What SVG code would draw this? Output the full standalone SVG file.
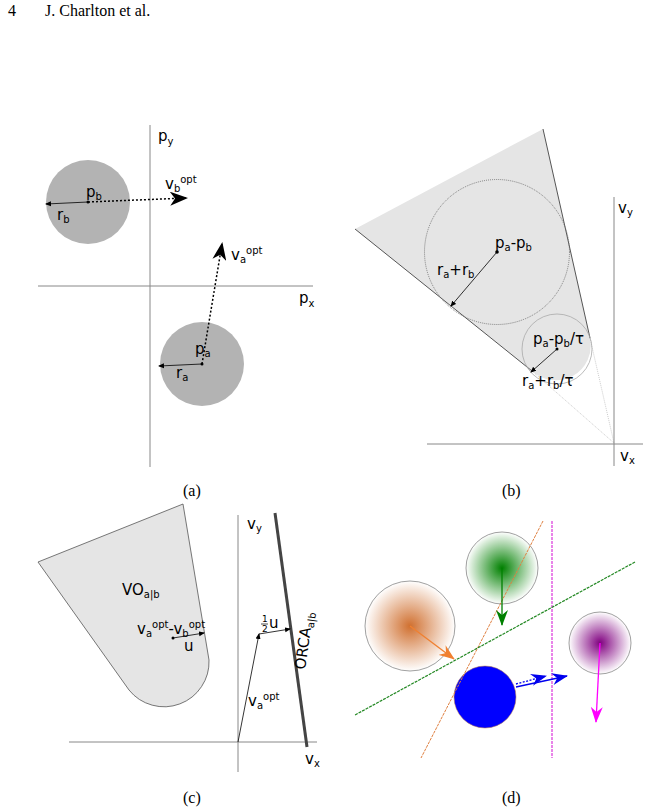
<svg xmlns="http://www.w3.org/2000/svg" width="653" height="812" viewBox="0 0 653 812">
<style>
.ax{stroke:#888;stroke-width:1;fill:none}
.l{font-family:"DejaVu Sans",sans-serif;font-size:15px;fill:#000}
.s{font-size:10px}
.cap{font-family:"Liberation Serif",serif;font-size:16px;fill:#000}
.thin{stroke:#000;stroke-width:0.8;fill:none}
.dot{stroke:#000;stroke-width:1.5;stroke-dasharray:2,2;fill:none}
</style>
<defs>
<marker id="sa" markerWidth="6" markerHeight="6" refX="5" refY="3" orient="auto" markerUnits="userSpaceOnUse"><path d="M0,0.5 L6,3 L0,5.5 Z" fill="#000"/></marker>
<marker id="big" markerWidth="18" markerHeight="14" refX="16" refY="7" orient="auto" markerUnits="userSpaceOnUse"><path d="M0,0 L18,7 L0,14 L5,7 Z" fill="#000"/></marker>
<marker id="mo" markerWidth="16" markerHeight="12" refX="15" refY="6" orient="auto" markerUnits="userSpaceOnUse"><path d="M0,0 L16,6 L0,12 L5,6 Z" fill="#f08030"/></marker>
<marker id="mg" markerWidth="16" markerHeight="12" refX="15" refY="6" orient="auto" markerUnits="userSpaceOnUse"><path d="M0,0 L16,6 L0,12 L5,6 Z" fill="#008000"/></marker>
<marker id="mm" markerWidth="16" markerHeight="12" refX="15" refY="6" orient="auto" markerUnits="userSpaceOnUse"><path d="M0,0 L16,6 L0,12 L5,6 Z" fill="#ff00ff"/></marker>
<marker id="mb" markerWidth="16" markerHeight="12" refX="15" refY="6" orient="auto" markerUnits="userSpaceOnUse"><path d="M0,0 L16,6 L0,12 L5,6 Z" fill="#0000ee"/></marker>
<radialGradient id="go"><stop offset="0" stop-color="#d07030"/><stop offset="1" stop-color="#d07030" stop-opacity="0"/></radialGradient>
<radialGradient id="gg"><stop offset="0" stop-color="#008000"/><stop offset="1" stop-color="#008000" stop-opacity="0"/></radialGradient>
<radialGradient id="gp"><stop offset="0" stop-color="#800080"/><stop offset="1" stop-color="#800080" stop-opacity="0"/></radialGradient>
</defs>
<rect width="653" height="812" fill="#fff"/>
<text class="cap" x="8" y="16">4</text>
<text class="cap" x="45" y="16">J. Charlton et al.</text>

<!-- panel a -->
<g id="panel-a">
<line class="ax" x1="150" y1="125" x2="150" y2="467"/>
<line class="ax" x1="38" y1="286" x2="313" y2="286"/>
<text class="l" x="158" y="141">p<tspan class="s" dy="4">y</tspan></text>
<text class="l" x="299" y="303">p<tspan class="s" dy="4">x</tspan></text>
<g id="agent-b"><circle cx="88" cy="202" r="42" fill="#b3b3b3"/><circle cx="88" cy="202" r="1.5"/>
<text class="l" x="86" y="197">p<tspan class="s" dy="3">b</tspan></text>
<text class="l" x="57" y="220">r<tspan class="s" dy="3">b</tspan></text></g>
<g id="agent-a"><circle cx="202" cy="364" r="42" fill="#b3b3b3"/><circle cx="202" cy="364" r="1.5"/>
<text class="l" x="195" y="354">p<tspan class="s" dy="3">a</tspan></text>
<text class="l" x="176" y="378">r<tspan class="s" dy="3">a</tspan></text></g>
<text class="l" x="165" y="189">v<tspan class="s" dy="3">b</tspan><tspan class="s" dy="-9">opt</tspan></text>
<text class="l" x="231" y="260">v<tspan class="s" dy="3">a</tspan><tspan class="s" dy="-9">opt</tspan></text>
</g>

<!-- panel b -->
<g id="panel-b">
<path d="M543,129 L355,229 L532,371 A35,35 0 0 0 590,338 Z" fill="#e5e5e5" stroke="none"/>
<line x1="543" y1="129" x2="590" y2="338" stroke="#555" stroke-width="1"/>
<line x1="355" y1="229" x2="532" y2="371" stroke="#555" stroke-width="1"/>
<line x1="532" y1="371" x2="614" y2="443" stroke="#aaa" stroke-width="0.6" stroke-dasharray="1,1"/>
<line x1="590" y1="338" x2="614" y2="443" stroke="#aaa" stroke-width="0.6" stroke-dasharray="1,1"/>
<circle cx="497" cy="252" r="72.5" fill="none" stroke="#666" stroke-width="0.8" stroke-dasharray="1,1"/>
<circle cx="557" cy="349" r="35" fill="none" stroke="#aaa" stroke-width="0.8"/>
<line class="ax" x1="614" y1="197" x2="614" y2="466"/>
<line class="ax" x1="427" y1="444" x2="643" y2="444"/>
<circle cx="497" cy="252" r="1.8"/><circle cx="557" cy="349" r="1.5"/>
<text class="l" x="618" y="213">v<tspan class="s" dy="3">y</tspan></text>
<text class="l" x="620" y="461">v<tspan class="s" dy="3">x</tspan></text>
<text class="l" x="495" y="248">p<tspan class="s" dy="3">a</tspan><tspan dy="-3">-p</tspan><tspan class="s" dy="3">b</tspan></text>
<text class="l" x="437" y="275">r<tspan class="s" dy="3">a</tspan><tspan dy="-3">+r</tspan><tspan class="s" dy="3">b</tspan></text>
<text class="l" x="533" y="344">p<tspan class="s" dy="3">a</tspan><tspan dy="-3">-p</tspan><tspan class="s" dy="3">b</tspan><tspan dy="-3">/τ</tspan></text>
<text class="l" x="522" y="386">r<tspan class="s" dy="3">a</tspan><tspan dy="-3">+r</tspan><tspan class="s" dy="3">b</tspan><tspan dy="-3">/τ</tspan></text>
</g>

<!-- panel c -->
<g id="panel-c">
<path d="M183,504 L38,562 L129,690 A45,45 0 0 0 209,660 Z" fill="#e5e5e5" stroke="#555" stroke-width="0.8"/>
<line class="ax" x1="238" y1="515" x2="238" y2="772"/>
<line class="ax" x1="69" y1="742" x2="317" y2="742"/>
<line x1="275" y1="513" x2="307" y2="747" stroke="#444" stroke-width="3"/>
<circle cx="173" cy="638" r="1.5"/>
<text class="l" x="247" y="529">v<tspan class="s" dy="3">y</tspan></text>
<text class="l" x="305" y="764">v<tspan class="s" dy="3">x</tspan></text>
<text class="l" x="122" y="595">VO<tspan class="s" dy="3">a|b</tspan></text>
<text class="l" x="137" y="634">v<tspan class="s" dy="3">a</tspan><tspan class="s" dy="-9">opt</tspan><tspan dy="6">-v</tspan><tspan class="s" dy="3">b</tspan><tspan class="s" dy="-9">opt</tspan></text>
<text class="l" x="184" y="651">u</text>
<text x="262" y="622" style="font-family:'DejaVu Sans',sans-serif;font-size:9px">1</text>
<line x1="261" y1="624" x2="268" y2="624" stroke="#000" stroke-width="0.7"/>
<text x="262" y="632" style="font-family:'DejaVu Sans',sans-serif;font-size:9px">2</text>
<text class="l" x="269" y="628">u</text>
<text class="l" x="248" y="706">v<tspan class="s" dy="3">a</tspan><tspan class="s" dy="-9">opt</tspan></text>
<text class="l" transform="translate(305,670) rotate(-82)">ORCA<tspan class="s" dy="3">a|b</tspan></text>
</g>

<!-- panel d -->
<g id="panel-d">
<circle cx="410" cy="626" r="45" fill="url(#go)" stroke="#888" stroke-width="0.8"/>
<circle cx="502" cy="568" r="36" fill="url(#gg)" stroke="#888" stroke-width="0.8"/>
<circle cx="600" cy="643" r="31" fill="url(#gp)" stroke="#888" stroke-width="0.8"/>
<circle cx="485" cy="697" r="31" fill="#0000ff" stroke="#c08040" stroke-width="0.5"/>
</g>

<g id="connectors">
<line class="thin" x1="88" y1="202" x2="46" y2="204" marker-end="url(#sa)"/>
<line class="dot" x1="88" y1="202" x2="186" y2="198" marker-end="url(#big)"/>
<line class="thin" x1="202" y1="364" x2="159" y2="366" marker-end="url(#sa)"/>
<line class="dot" x1="202" y1="364" x2="222" y2="244" marker-end="url(#big)"/>
<line class="thin" x1="497" y1="252" x2="451" y2="306" marker-end="url(#sa)"/>
<line class="thin" x1="557" y1="349" x2="531" y2="372" marker-end="url(#sa)"/>
<line class="thin" x1="173" y1="638" x2="204" y2="633" marker-end="url(#sa)"/>
<line class="thin" x1="238" y1="742" x2="259" y2="634" marker-end="url(#sa)"/>
<line class="thin" x1="259" y1="634" x2="290" y2="629" marker-end="url(#sa)"/>
<line x1="543" y1="521" x2="421" y2="758" stroke="#e08040" stroke-width="1" stroke-dasharray="3,1"/>
<line x1="552" y1="521" x2="552" y2="758" stroke="#dd44dd" stroke-width="1.3" stroke-dasharray="3,1"/>
<line x1="635" y1="562" x2="355" y2="715" stroke="#228822" stroke-width="1.2" stroke-dasharray="3,1"/>
<line x1="410" y1="626" x2="454" y2="659" stroke="#f08030" stroke-width="1.3" marker-end="url(#mo)"/>
<line x1="502" y1="568" x2="502" y2="625" stroke="#008000" stroke-width="1.3" marker-end="url(#mg)"/>
<line x1="600" y1="643" x2="596" y2="722" stroke="#ff00ff" stroke-width="1.3" marker-end="url(#mm)"/>
<line x1="516" y1="687" x2="567" y2="676" stroke="#0000ee" stroke-width="1.3" marker-end="url(#mb)"/>
<line x1="516" y1="684" x2="546" y2="676" stroke="#0000ee" stroke-width="1.3" stroke-dasharray="2,1.5" marker-end="url(#mb)"/>
</g>

<text class="cap" x="183" y="496">(a)</text>
<text class="cap" x="502" y="496">(b)</text>
<text class="cap" x="183" y="803">(c)</text>
<text class="cap" x="502" y="803">(d)</text>
</svg>
